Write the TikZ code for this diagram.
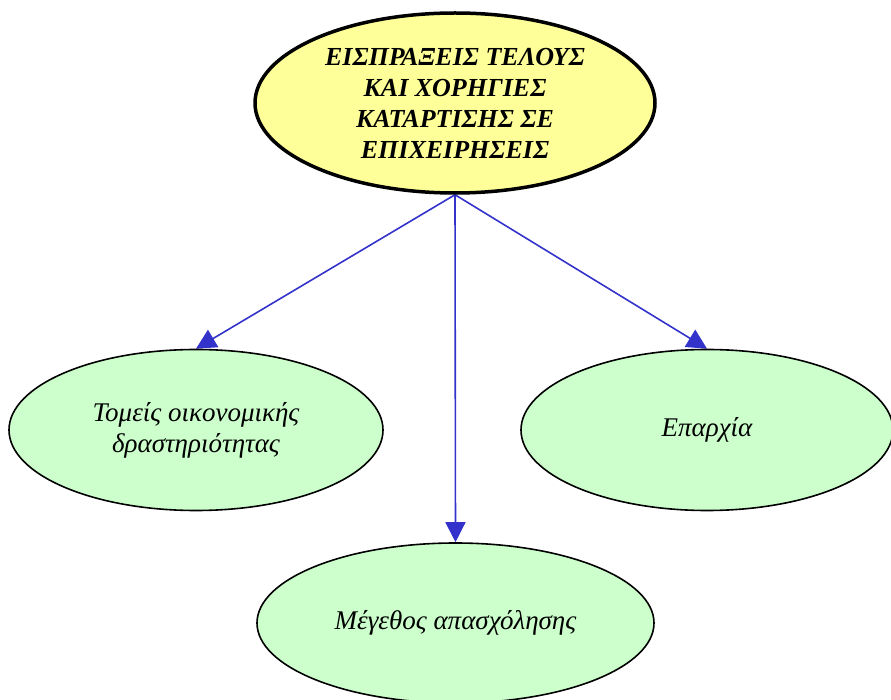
\documentclass[tikz,border=0pt]{standalone}
\usepackage{fontspec}
\setmainfont{Liberation Serif}
\usepackage{tikz}
\usetikzlibrary{arrows.meta, shapes.geometric, backgrounds}
\definecolor{gelb}{HTML}{FFFF99}
\definecolor{gruen}{HTML}{CCFFCC}
\definecolor{pfeil}{HTML}{3333CC}

\begin{document}
\begin{tikzpicture}[x=1pt, y=-1pt,
    haupt/.style={ellipse, draw, line width=3.5pt, fill=gelb, inner sep=0pt,
      minimum width=400pt, minimum height=180pt, align=center,
      font=\fontsize{26}{31}\selectfont\bfseries\itshape},
    teil/.style={ellipse, draw, line width=1.6pt, fill=gruen, inner sep=0pt,
      minimum width=374pt, minimum height=161pt, align=center,
      font=\fontsize{27}{31}\selectfont\itshape},
    verb/.style={-{Triangle[length=20pt, width=20pt]}, pfeil, line width=1.6pt}]
  \useasboundingbox (0,0) rectangle (891,700);

  % Knoten
  \node[haupt] (wurzel) at (455,103)
    {ΕΙΣΠΡΑΞΕΙΣ ΤΕΛΟΥΣ\\ΚΑΙ ΧΟΡΗΓΙΕΣ\\ΚΑΤΑΡΤΙΣΗΣ ΣΕ\\ΕΠΙΧΕΙΡΗΣΕΙΣ};
  \node[teil] (tomeis) at (196,430) {Τομείς οικονομικής\\δραστηριότητας};
  \node[teil, minimum width=372pt] (eparchia) at (707,430) {Επαρχία};
  \node[teil, minimum width=397pt, minimum height=160pt] (megethos) at (455.5,623)
    {Μέγεθος απασχόλησης};

  % Pfeile
  \begin{scope}[on background layer]
    \draw[verb] (wurzel.south) -- (tomeis.north);
    \draw[verb] (wurzel.south) -- (megethos.north);
    \draw[verb] (wurzel.south) -- (eparchia.north);
  \end{scope}
\end{tikzpicture}
\end{document}
